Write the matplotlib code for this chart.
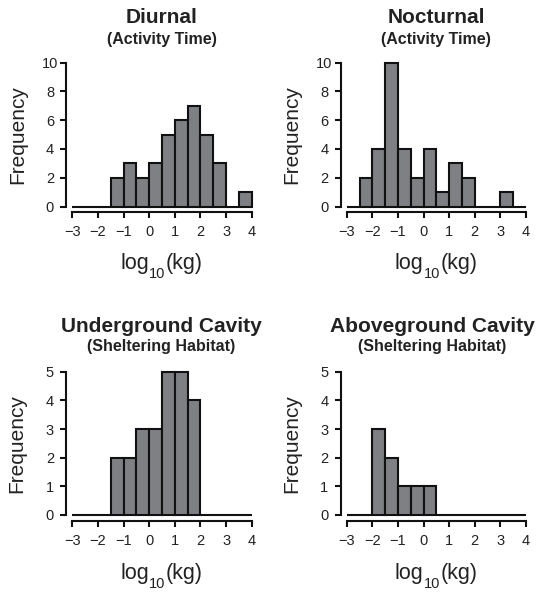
import numpy as np
import matplotlib
matplotlib.use("Agg")
import matplotlib.pyplot as plt
from matplotlib.transforms import offset_copy

plt.rcParams['font.family'] = ['Liberation Sans', 'DejaVu Sans']

# ---- data ----
bin_edges = [-3, -2.5, -2, -1.5, -1, -0.5, 0, 0.5, 1, 1.5, 2, 2.5, 3, 3.5, 4]
diurnal = [0, 0, 0, 2, 3, 2, 3, 5, 6, 7, 5, 3, 0, 1]
nocturnal = [0, 2, 4, 10, 4, 2, 4, 1, 3, 2, 0, 0, 1, 0]
underground = [0, 0, 0, 2, 2, 3, 3, 5, 5, 4, 0, 0, 0, 0]
aboveground = [0, 0, 3, 2, 1, 1, 1, 0, 0, 0, 0, 0, 0, 0]

titles = ["Diurnal", "Nocturnal", "Underground Cavity", "Aboveground Cavity"]
subtitles = ["(Activity Time)", "(Activity Time)", "(Sheltering Habitat)", "(Sheltering Habitat)"]
series = [diurnal, nocturnal, underground, aboveground]
yticks_list = [[0, 2, 4, 6, 8, 10], [0, 2, 4, 6, 8, 10], [0, 1, 2, 3, 4, 5], [0, 1, 2, 3, 4, 5]]
xticks = [-3, -2, -1, 0, 1, 2, 3, 4]

W, H = 540, 592
fig = plt.figure(figsize=(W / 100, H / 100), dpi=100)
renderer = fig.canvas.get_renderer()

def fx(x):
    return x / W

def fy(y):
    return 1 - y / H

# pixel boxes of the data area: (x_left, x_right, y_top, y_bottom)
boxes = [(72.3, 251.7, 62.7, 206.5),
         (346.7, 526.0, 62.7, 206.5),
         (72.3, 251.7, 371.7, 515.0),
         (346.7, 526.0, 371.7, 515.0)]
title_pos = [(162, 22.7, 44.0), (436.3, 22.7, 44.0), (161, 332.5, 350.5), (432, 332.5, 350.5)]
ylab_x = [18, 291.5, 17, 291.5]
xlab_base = [269, 269, 579, 579]

TXT = '#222222'
lw = 1.5


def xlabel(cx, base):
    # "log" + lowered subscript "10" + "(kg)"
    parts = [("log", 15.5, 0), ("10", 10.5, 8.5), ("(kg)", 15.5, 0)]
    widths = []
    for s, fs, _ in parts:
        t = fig.text(0, 0, s, fontsize=fs)
        widths.append(t.get_window_extent(renderer).width)
        t.remove()
    total = sum(widths) + 1
    x = cx - total / 2
    for (s, fs, drop), w in zip(parts, widths):
        fig.text(fx(x), fy(base + drop), s, fontsize=fs, ha='left', va='baseline', color=TXT)
        x += w + (0.5 if s == "10" else 0)


for i in range(4):
    x0, x1, yt, yb = boxes[i]
    ax = fig.add_axes([fx(x0), fy(yb), (x1 - x0) / W, (yb - yt) / H])
    counts = series[i]
    lefts = np.array(bin_edges[:-1])
    widths = np.diff(bin_edges)
    ax.bar(lefts, counts, width=widths, align='edge', color='#7f8083',
           edgecolor='#111111', linewidth=lw, clip_on=False, zorder=3)
    yt_ = yticks_list[i]
    ax.set_xlim(-3, 4)
    ax.set_ylim(0, yt_[-1])
    for s in ['top', 'right']:
        ax.spines[s].set_visible(False)
    ax.spines['left'].set_position(('outward', 4.3))
    ax.spines['bottom'].set_position(('outward', 4.0))
    ax.spines['left'].set_bounds(0, yt_[-1])
    ax.spines['bottom'].set_bounds(-3, 4)
    for s in ['left', 'bottom']:
        ax.spines[s].set_linewidth(lw)
        ax.spines[s].set_color('#111111')
    ax.set_xticks(xticks)
    ax.set_xticklabels(['\u2212' + str(-t) if t < 0 else str(t) for t in xticks])
    ax.set_yticks(yt_)
    ax.set_yticklabels([str(t) for t in yt_], ha='center')
    ax.tick_params(axis='x', direction='out', length=4, width=lw, color='#111111',
                   labelsize=10.5, pad=5.5, labelcolor=TXT)
    ax.tick_params(axis='y', direction='out', length=4.3, width=lw, color='#111111',
                   labelsize=10.5, pad=7.5, labelcolor=TXT)
    ax.patch.set_visible(False)

    cx, tb, sb = title_pos[i]
    fig.text(fx(cx), fy(tb), titles[i], ha='center', va='baseline',
             fontsize=15, fontweight='bold', color=TXT)
    fig.text(fx(cx), fy(sb), subtitles[i], ha='center', va='baseline',
             fontsize=11.5, fontweight='bold', color=TXT)
    fig.text(fx(ylab_x[i]), fy((yt + yb) / 2), 'Frequency', rotation=90,
             ha='center', va='center', fontsize=15, color=TXT)
    xlabel((x0 + x1) / 2, xlab_base[i])

fig.savefig('out.png', dpi=100)
